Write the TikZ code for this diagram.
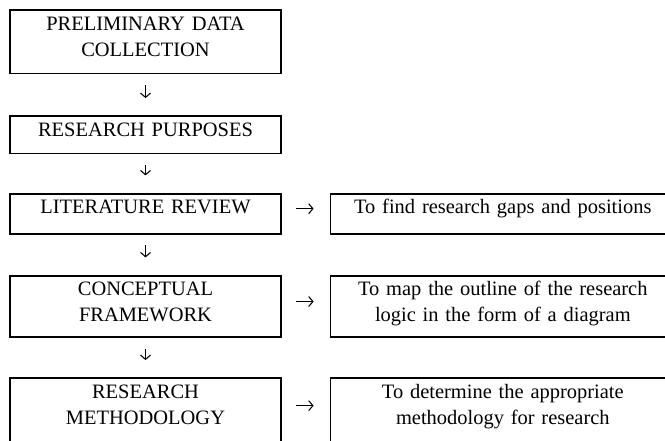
\documentclass[tikz,border=0pt]{standalone}
\usepackage{fontspec}
\setmainfont{Liberation Serif}
\usepackage{tikz}
\usetikzlibrary{arrows.meta, positioning}
\tikzset{
  stepbox/.style={
    rectangle, draw=black, line width=1.4pt,
    text width=204pt, align=center,
    inner xsep=0pt, inner ysep=4pt,
    text height=11pt, text depth=#1,
    font=\fontsize{15.4}{19.5}\selectfont
  },
  notebox/.style={stepbox=#1, text width=259.5pt},
  downarrow/.style={-{Straight Barb[length=3.2pt,width=7.5pt]},
    line width=0.8pt, shorten <=8pt, shorten >=13pt},
  sidearrow/.style={-{Straight Barb[length=3.2pt,width=7.5pt]},
    line width=0.8pt, shorten <=10.5pt, shorten >=12pt},
}

\begin{document}
\begin{tikzpicture}[node distance=0.4cm and 1.26cm]
    \useasboundingbox (0,0) rectangle (17.595,-11.642);
    \clip (0,0) rectangle (17.595,-11.642);
    % main steps
    \node[stepbox=28.6pt, anchor=north](collect)at(3.85,-0.246){PRELIMINARY DATA\\COLLECTION};
    \node[stepbox=9pt,    anchor=north](purpose)at(3.85,-3.051){RESEARCH PURPOSES};
    \node[stepbox=11.2pt, anchor=north](review) at(3.85,-5.098){LITERATURE REVIEW};
    \node[stepbox=27.5pt, anchor=north](frame)  at(3.85,-7.268){CONCEPTUAL\\FRAMEWORK};
    \node[stepbox=29.75pt,anchor=north](method) at(3.85,-9.983){RESEARCH\\METHODOLOGY};
    % notes
    \node[notebox=11.2pt, right=of review.north east, anchor=north west](gaps)
         {To find research gaps and positions};
    \node[notebox=27.5pt, right=of frame.north east,  anchor=north west](outline)
         {To map the outline of the research\\logic in the form of a diagram};
    \node[notebox=29.75pt,right=of method.north east, anchor=north west](approp)
         {To determine the appropriate\\methodology for research};
    \draw[downarrow](collect)--(purpose);
    \draw[downarrow](purpose)--(review);
    \draw[downarrow](review)--(frame);
    \draw[downarrow](frame)--(method);
    \draw[sidearrow]([yshift=3.75pt]review.east)--([yshift=3.75pt]gaps.west);
    \draw[sidearrow]([yshift=3.75pt]frame.east)--([yshift=3.75pt]outline.west);
    \draw[sidearrow]([yshift=3.75pt]method.east)--([yshift=3.75pt]approp.west);
  \end{tikzpicture}
\end{document}
